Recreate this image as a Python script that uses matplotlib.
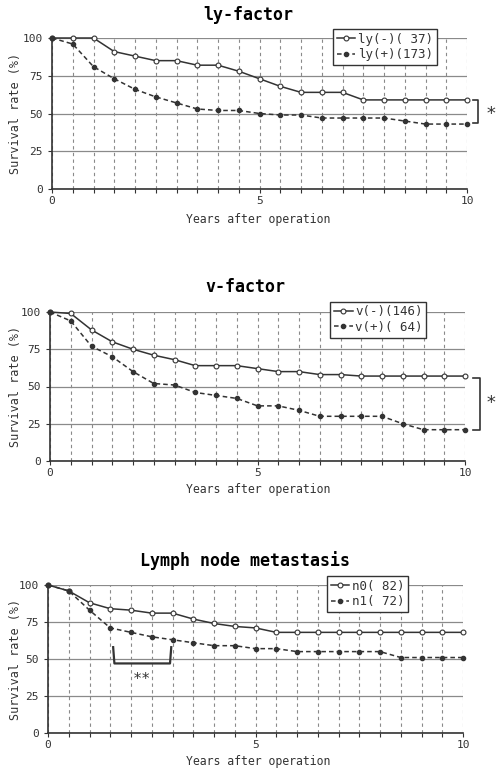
import numpy as np
import matplotlib
matplotlib.use("Agg")
import matplotlib.pyplot as plt

plt.rcParams['font.family'] = ['DejaVu Sans Mono']

# years after operation (every half year)
years = np.arange(0, 10.01, 0.5)

# ly-factor
ly_neg = [100, 100, 100, 91, 88, 85, 85, 82, 82, 78, 73, 68, 64, 64, 64, 59, 59, 59, 59, 59, 59]
ly_pos = [100, 96, 81, 73, 66, 61, 57, 53, 52, 52, 50, 49, 49, 47, 47, 47, 47, 45, 43, 43, 43]
# v-factor
v_neg = [100, 99, 88, 80, 75, 71, 68, 64, 64, 64, 62, 60, 60, 58, 58, 57, 57, 57, 57, 57, 57]
v_pos = [100, 94, 77, 70, 60, 52, 51, 46, 44, 42, 37, 37, 34, 30, 30, 30, 30, 25, 21, 21, 21]
# lymph node metastasis
n0 = [100, 96, 88, 84, 83, 81, 81, 77, 74, 72, 71, 68, 68, 68, 68, 68, 68, 68, 68, 68, 68]
n1 = [100, 96, 83, 71, 68, 65, 63, 61, 59, 59, 57, 57, 55, 55, 55, 55, 55, 51, 51, 51, 51]

titles = ['ly-factor', 'v-factor', 'Lymph node metastasis']
labels_neg = ['ly(-)( 37)', 'v(-)(146)', 'n0( 82)']
labels_pos = ['ly(+)(173)', 'v(+)( 64)', 'n1( 72)']
series = [(ly_neg, ly_pos), (v_neg, v_pos), (n0, n1)]

W, H = 498, 771
fig = plt.figure(figsize=(W / 100, H / 100), dpi=100)

# pixel boxes: left, right, y of 0, y of 100
boxes = [(52, 467, 189, 38), (50, 465, 461, 312), (48, 463, 733, 585)]
title_xy = [(248, 15), (245, 287), (245, 561)]
xlabel_y = [219, 489, 762]
legend_anchor = [(0.677, 1.06), (0.675, 1.07), (0.672, 1.06)]

ink = '#333333'
gridc = '#8a8a8a'

axes = []
for i, (l, r, yb, yt) in enumerate(boxes):
    ax = fig.add_axes([l / W, 1 - yb / H, (r - l) / W, (yb - yt) / H])
    axes.append(ax)
    neg, pos = series[i]
    ax.plot(years, neg, '-', color=ink, lw=1.1, marker='o', ms=3.5, mfc='white',
            mec=ink, mew=0.8, clip_on=False, label=labels_neg[i], zorder=3)
    ax.plot(years, pos, '--', color=ink, lw=1.1, dashes=(3, 2), marker='o', ms=3,
            mfc=ink, mec=ink, clip_on=False, label=labels_pos[i], zorder=3)

    ax.set_xlim(0, 10)
    ax.set_ylim(0, 100)
    ax.set_xticks([0, 5, 10])
    ax.set_xticks(np.arange(0, 10.01, 0.5), minor=True)
    ax.set_yticks([0, 25, 50, 75, 100])
    ax.tick_params(axis='both', which='both', labelsize=8, colors=ink, length=3, width=0.8)
    ax.tick_params(axis='x', pad=2)
    ax.grid(True, axis='x', which='both', ls=(0, (3, 3)), color=gridc, lw=0.8)
    ax.grid(True, axis='y', which='major', ls='-', color=gridc, lw=0.9)
    for s in ['top', 'right']:
        ax.spines[s].set_visible(False)
    for s in ['left', 'bottom']:
        ax.spines[s].set_color(ink)
        ax.spines[s].set_linewidth(1.2)
    ax.set_ylabel('Survival rate (%)', fontsize=8.5, color=ink)
    ax.yaxis.set_label_coords(-(l - 22) / (r - l), 0.5)

    fig.text(title_xy[i][0] / W, 1 - title_xy[i][1] / H, titles[i], ha='center',
             va='center', fontsize=12, fontweight='bold', color='black')
    fig.text(258 / W, 1 - xlabel_y[i] / H, 'Years after operation', ha='center',
             va='center', fontsize=8.3, color=ink)

    leg = ax.legend(loc='upper left', bbox_to_anchor=legend_anchor[i], fontsize=9,
                    frameon=True, fancybox=False, handlelength=1.5, handletextpad=0.2,
                    borderpad=0.3, labelspacing=0.2, borderaxespad=0)
    leg.get_frame().set_edgecolor(ink)
    leg.get_frame().set_linewidth(1.0)
    leg.get_frame().set_alpha(1)
    for t in leg.get_texts():
        t.set_color(ink)

# significance brackets
ax = axes[0]
ax.plot([10.14, 10.27, 10.27, 10.14], [59, 59, 43.5, 43.5], color=ink, lw=1.2, clip_on=False)
ax.text(10.72, 50, '*', fontsize=13, color=ink, ha='right', va='center')

ax = axes[1]
ax.plot([10.19, 10.36, 10.36, 10.19], [56, 56, 21, 21], color=ink, lw=1.2, clip_on=False)
ax.text(10.76, 39, '*', fontsize=13, color=ink, ha='right', va='center')

ax = axes[2]
ax.plot([1.57, 1.6, 2.94, 2.97], [58, 47, 47, 58], color=ink, lw=1.6, clip_on=False)
ax.text(2.27, 36, '**', fontsize=11, color=ink, ha='center', va='center')

fig.savefig('out.png', dpi=100, facecolor='white')
